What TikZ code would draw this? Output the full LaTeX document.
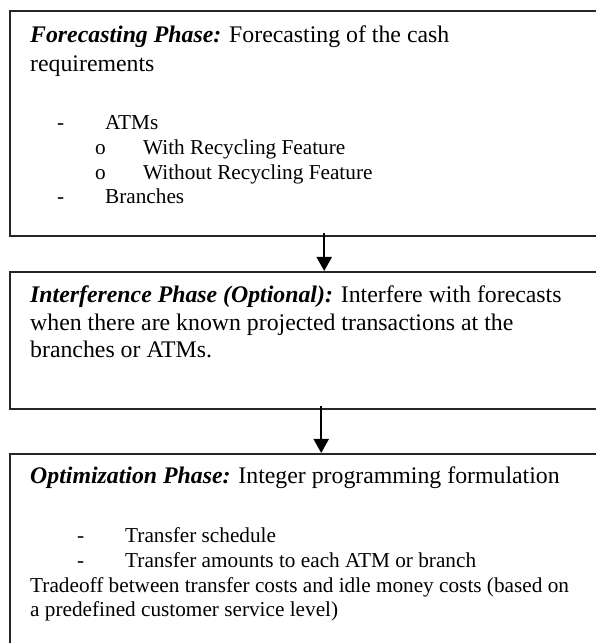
\documentclass[tikz,border=0pt]{standalone}
\usepackage{fontspec}
\setmainfont{Liberation Serif}
\usetikzlibrary{arrows.meta}

\tikzset{%
  phase box/.style={
    rectangle,
    draw=black!85,
    line width=2.4pt,
    anchor=north west,
    minimum width=628pt,
    inner sep=0pt
  },
  phase text/.style={
    anchor=base west,
    align=left,
    inner sep=0pt,
    font=\fontsize{21.25}{24.75}\selectfont
  },
  phase head/.style={
    phase text,
    font=\fontsize{23.8}{27.5}\selectfont
  },
  flow/.style={
    line width=2pt,
    -{Triangle[width=15pt,length=14pt]}
  },
}

\newcommand{\phasename}[1]{\textbf{\textit{#1}}}
\newcommand{\listdash}[2]{\hspace*{#1}\makebox[48pt][l]{#2}}

\begin{document}
\begin{tikzpicture}[x=1pt, y=1pt]

\path[use as bounding box, clip] (0,0) rectangle (596,643);

% Phasen
\node [phase box, minimum height=225pt] (forecast)  at (9,633) {};
\node [phase box, minimum height=137pt] (interfere) at (9,372) {};
\node [phase box, minimum height=240pt] (optimize)  at (9,190) {};


% Texte der Phasen (verankert an der letzten Zeile)
\node [phase head] (forecast-head) at (30,571) {%
  \phasename{Forecasting Phase:} Forecasting of the cash\\[1.5pt]
  requirements};

\node [phase text] (forecast-list) at (30,439) {%
  \listdash{27pt}{-}ATMs\\
  \listdash{65pt}{o}With Recycling Feature\\
  \listdash{65pt}{o}Without Recycling Feature\\
  \listdash{27pt}{-}Branches};

\node [phase head] (interfere-head) at (30,285) {%
  \phasename{Interference Phase (Optional):} Interfere with forecasts\\
  when there are known projected transactions at the\\
  branches or ATMs.};

\node [phase head] (optimize-head) at (30,159) {%
  \phasename{Optimization Phase:} Integer programming formulation};

\node [phase text] (optimize-list) at (30,26) {%
  \listdash{47pt}{-}Transfer schedule\\
  \listdash{47pt}{-}Transfer amounts to each ATM or branch\\
  Tradeoff between transfer costs and idle money costs (based on\\
  a predefined customer service level)};


% Verbindungen
\draw [flow] ([yshift=4pt]forecast.south) -- (forecast.south |- interfere.north);

\draw [flow] ([xshift=-3pt, yshift=4pt]interfere.south)
  -- ([xshift=-3pt]interfere.south |- optimize.north);

\end{tikzpicture}
\end{document}
